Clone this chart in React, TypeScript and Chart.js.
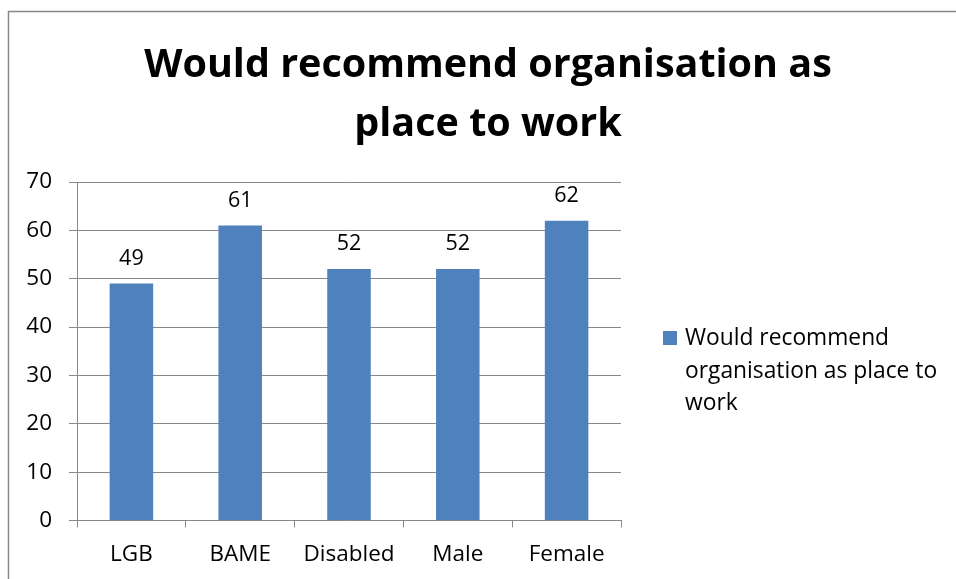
import React, { useEffect, useRef } from "react";
import { Chart, registerables } from "chart.js";

Chart.register(...registerables);

const categories = ["LGB", "BAME", "Disabled", "Male", "Female"];
const values = [49, 61, 52, 52, 62];
const seriesLabel = "Would recommend organisation as place to work";
const titleLines = ["Would recommend organisation as", "place to work"];
const legendLines = ["Would recommend", "organisation as place to", "work"];
const yMin = 0;
const yMax = 70;
const yStep = 10;

const BAR_COLOR = "#4F81BD";
const GRID = "#888888";
const FONT = "'Open Sans', Lato, sans-serif";

const decor = {
  id: "decor",
  beforeDraw(chart: any) {
    const { ctx, width, height } = chart;
    ctx.save();
    ctx.fillStyle = "#ffffff";
    ctx.fillRect(0, 0, width, height);
    ctx.strokeStyle = GRID;
    ctx.lineWidth = 1.5;
    ctx.beginPath();
    ctx.moveTo(8.5, height + 5);
    ctx.lineTo(8.5, 11.5);
    ctx.lineTo(width + 5, 11.5);
    ctx.stroke();
    ctx.restore();
  },
  afterDatasetsDraw(chart: any) {
    const { ctx } = chart;
    const meta = chart.getDatasetMeta(0);
    ctx.save();
    ctx.font = `21.5px ${FONT}`;
    ctx.fillStyle = "#000";
    ctx.textAlign = "center";
    ctx.textBaseline = "alphabetic";
    meta.data.forEach((bar: any, i: number) => {
      const v = chart.data.datasets[0].data[i];
      ctx.fillText(String(v), bar.x, bar.y - 19);
    });
    ctx.restore();
  },
  afterDraw(chart: any) {
    const { ctx } = chart;
    ctx.save();
    ctx.fillStyle = "#000";
    ctx.textAlign = "center";
    ctx.textBaseline = "alphabetic";
    ctx.font = `bold 39.5px ${FONT}`;
    ctx.fillText(titleLines[0], 488, 77);
    ctx.fillText(titleLines[1], 488, 136);

    // legend
    ctx.fillStyle = chart.data.datasets[0].backgroundColor;
    ctx.fillRect(663, 331, 14, 14);
    ctx.fillStyle = "#000";
    ctx.textAlign = "left";
    ctx.font = `22.8px ${FONT}`;
    legendLines.forEach((line, i) => {
      ctx.fillText(line, 685, 345 + i * 32.5);
    });
    ctx.restore();
  },
};

export default function App() {
  const ref = useRef<HTMLCanvasElement | null>(null);
  useEffect(() => {
    if (!ref.current) return;
    const tickFont = { family: FONT, size: 22.5 };
    const chart = new Chart(ref.current, {
      type: "bar",
      data: {
        labels: categories,
        datasets: [
          {
            label: seriesLabel,
            data: values,
            backgroundColor: BAR_COLOR,
            borderWidth: 0,
            barPercentage: 0.4,
            categoryPercentage: 1,
          },
        ],
      },
      options: {
        animation: false,
        responsive: true,
        maintainAspectRatio: false,
        layout: { padding: { left: 0, top: 182, right: 335, bottom: 0 } },
        plugins: {
          legend: { display: false },
          title: { display: false },
          tooltip: { enabled: false },
        },
        scales: {
          x: {
            grid: {
              offset: true,
              drawOnChartArea: false,
              drawTicks: true,
              tickLength: 7,
              color: GRID,
            },
            border: { color: GRID, width: 1 },
            ticks: { font: tickFont, color: "#000", padding: 14, maxRotation: 0 },
            afterFit: (s: any) => {
              s.height = 58.5;
            },
          },
          y: {
            min: yMin,
            max: yMax,
            ticks: { stepSize: yStep, font: tickFont, color: "#000", padding: 17 },
            grid: { color: GRID, tickLength: 8 },
            border: { color: GRID, width: 1 },
            afterFit: (s: any) => {
              s.width = 77;
            },
          },
        },
      },
      plugins: [decor],
    });
    return () => chart.destroy();
  }, []);
  return (
    <div style={{ position: "absolute", left: 0, top: 0, width: 956, height: 579 }}>
      <canvas ref={ref} />
    </div>
  );
}
